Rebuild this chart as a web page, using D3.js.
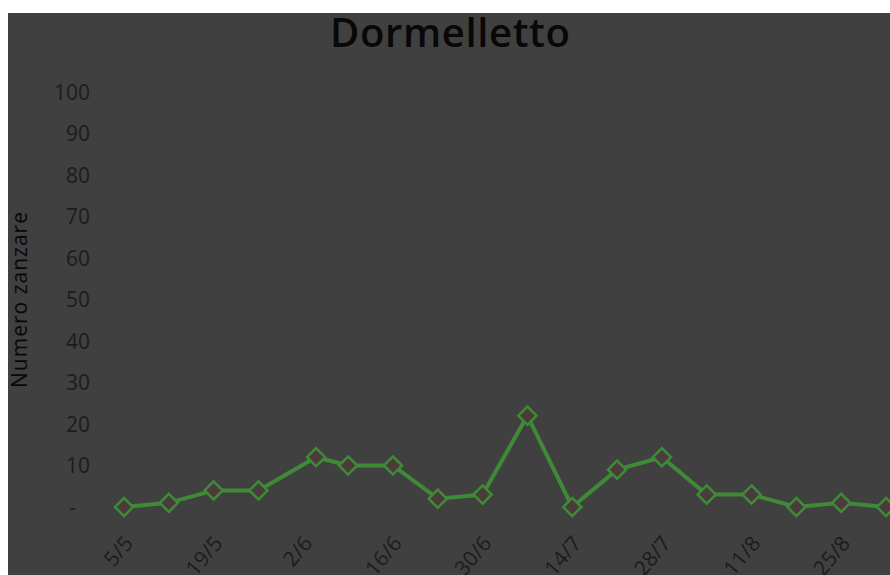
<!DOCTYPE html>
<html>
<head>
<meta charset="utf-8">
<script src="https://cdn.jsdelivr.net/npm/d3@7"></script>
<style>
  body { margin: 0; background: #fff; }
  svg { display: block; }
</style>
</head>
<body>
<svg id="chart" width="890" height="575"></svg>
<script>
var dates = ["5/5", "12/5", "19/5", "26/5", "4/6", "9/6", "16/6", "23/6", "30/6", "7/7",
             "14/7", "21/7", "28/7", "4/8", "11/8", "18/8", "25/8", "1/9"];
var counts = [0, 1, 4, 4, 12, 10, 10, 2, 3, 22, 0, 9, 12, 3, 3, 0, 1, 0];
var tickDates = ["5/5", "19/5", "2/6", "16/6", "30/6", "14/7", "28/7", "11/8", "25/8"];
var yTicks = [0, 10, 20, 30, 40, 50, 60, 70, 80, 90, 100];

function parseDay(s) {
    var p = s.split("/");
    return new Date(2013, +p[1] - 1, +p[0]);
}

var data = dates.map(function(d, i) { return { date: parseDay(d), value: counts[i] }; });

var svg = d3.select("#chart");

// chart area background (cropped at right/bottom like the source)
svg.append("rect").attr("x", 8).attr("y", 13).attr("width", 882).attr("height", 562).attr("fill", "#404040");

var x = d3.scaleTime()
    .domain([parseDay("5/5"), parseDay("1/9")])
    .range([124, 886]);

var y = d3.scaleLinear()
    .domain([0, 100])
    .range([507, 92]);

svg.append("text")
    .attr("x", 450).attr("y", 47)
    .attr("text-anchor", "middle")
    .attr("font-family", "Open Sans, sans-serif")
    .attr("font-weight", 600)
    .attr("font-size", 40)
    .attr("textLength", 240)
    .attr("fill", "#080808")
    .text("Dormelletto");

// y axis
var yAxis = d3.axisLeft(y)
    .tickValues(yTicks)
    .tickSize(0)
    .tickPadding(0)
    .tickFormat(function(d) { return d === 0 ? "-" : d; });

var gy = svg.append("g").attr("transform", "translate(90,0)").call(yAxis);
gy.select(".domain").remove();
gy.selectAll("text")
    .attr("font-family", "Open Sans, sans-serif")
    .attr("font-size", 21)
    .attr("fill", "#1c1c1c")
    .attr("dy", "0.35em")
    .attr("dx", function(d) { return d === 0 ? -14 : 0; });

svg.append("text")
    .attr("transform", "translate(27,300) rotate(-90)")
    .attr("text-anchor", "middle")
    .attr("font-family", "Open Sans, sans-serif")
    .attr("font-size", 21)
    .attr("textLength", 176)
    .attr("fill", "#080808")
    .text("Numero zanzare");

// x axis
var xAxis = d3.axisBottom(x)
    .tickValues(tickDates.map(parseDay))
    .tickSize(0)
    .tickPadding(0)
    .tickFormat(function(d) { return d.getDate() + "/" + (d.getMonth() + 1); });

var gx = svg.append("g").attr("transform", "translate(0,539)").call(xAxis);
gx.select(".domain").remove();
gx.selectAll("text")
    .attr("font-family", "Open Sans, sans-serif")
    .attr("font-size", 21)
    .attr("fill", "#1c1c1c")
    .attr("text-anchor", "end")
    .attr("y", 0)
    .attr("dy", "0.35em")
    .attr("transform", "translate(4,0) rotate(-50)");

var line = d3.line()
    .x(function(d) { return x(d.date); })
    .y(function(d) { return y(d.value); });

svg.append("path")
    .datum(data)
    .attr("fill", "none")
    .attr("stroke", "#3f8a37")
    .attr("stroke-width", 4)
    .attr("d", line);

svg.selectAll(".pt").data(data).enter().append("path")
    .attr("class", "pt")
    .attr("d", d3.symbol().type(d3.symbolDiamond2).size(210))
    .attr("transform", function(d) { return "translate(" + x(d.date) + "," + y(d.value) + ")"; })
    .attr("fill", "#4b3c3c")
    .attr("stroke", "#3f8a37")
    .attr("stroke-width", 2.5);
</script>
</body>
</html>
